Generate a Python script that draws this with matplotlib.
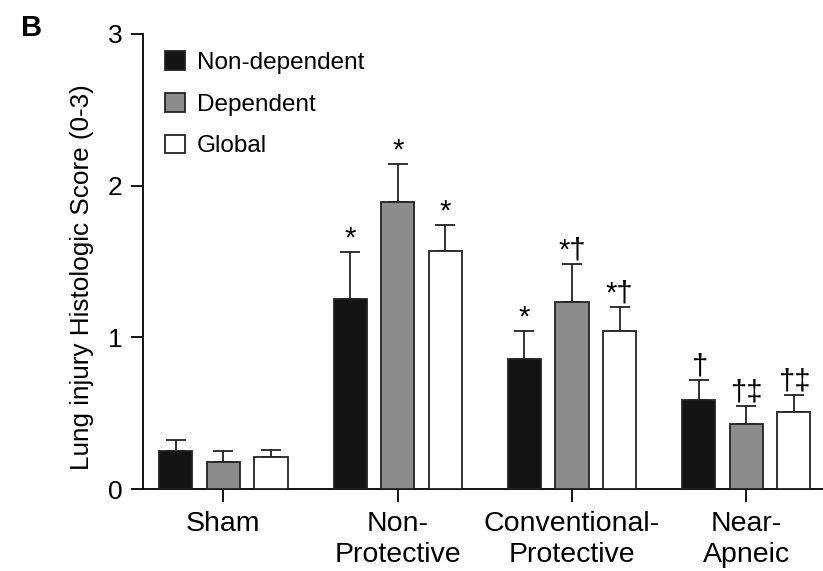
import numpy as np
import matplotlib
matplotlib.use('Agg')
import matplotlib.pyplot as plt

plt.rcParams['font.family'] = ['Liberation Sans', 'DejaVu Sans']

groups = ['Sham', 'Non-\nProtective', 'Conventional-\nProtective', 'Near-\nApneic']
series = ['Non-dependent', 'Dependent', 'Global']
colors = ['#141414', '#8c8c8c', '#ffffff']

non_dependent = [0.25, 1.25, 0.86, 0.59]
dependent = [0.18, 1.89, 1.23, 0.43]
global_score = [0.21, 1.57, 1.04, 0.51]

non_dependent_err = [0.07, 0.31, 0.18, 0.13]
dependent_err = [0.07, 0.25, 0.25, 0.12]
global_err = [0.05, 0.17, 0.16, 0.11]

non_dependent_sig = ['', '*', '*', '†']
dependent_sig = ['', '*', '*†', '†‡']
global_sig = ['', '*', '*†', '†‡']

values = [non_dependent, dependent, global_score]
errors = [non_dependent_err, dependent_err, global_err]
sigs = [non_dependent_sig, dependent_sig, global_sig]

fig = plt.figure(figsize=(8.23, 5.71), dpi=100)
ax = fig.add_axes([0.174, 0.1436, 0.826, 0.797])

x = np.arange(len(groups))
offset = 0.273
width = 0.19

for i in range(3):
    pos = x + (i - 1) * offset
    ax.bar(pos, values[i], width, color=colors[i], edgecolor='#222222',
           linewidth=1.3, label=series[i], zorder=3)
    ax.errorbar(pos, values[i], yerr=[np.zeros(len(groups)), errors[i]],
                fmt='none', ecolor='#222222', elinewidth=1.3, capsize=7.5,
                capthick=1.3, zorder=2)
    # significance markers above the error bars
    for p, v, e, s in zip(pos, values[i], errors[i], sigs[i]):
        if s:
            ax.annotate(s, (p, v + e), xytext=(0, 4), textcoords='offset points',
                        ha='center', va='baseline', fontsize=21)

ax.set_xlim(-0.46, 3.44)
ax.set_ylim(0, 3)
ax.set_yticks([0, 1, 2, 3])
ax.set_xticks(x)
ax.set_xticklabels(groups, fontsize=20.5, linespacing=1.25)
ax.tick_params(axis='y', labelsize=19, length=9, width=1.3, pad=6)
ax.tick_params(axis='x', length=9, width=1.3, pad=7)
ax.spines['top'].set_visible(False)
ax.spines['right'].set_visible(False)
ax.spines['left'].set_linewidth(1.3)
ax.spines['bottom'].set_linewidth(1.3)
ax.set_ylabel('Lung injury Histologic Score (0-3)', fontsize=18.8)
ax.yaxis.set_label_coords(-0.073, 0.466)

ax.legend(loc='upper left', bbox_to_anchor=(0.0, 1.01), frameon=False,
          fontsize=17.5, handlelength=0.8, handleheight=0.8, labelspacing=0.78,
          handletextpad=0.5)

fig.text(0.025, 0.975, 'B', fontsize=21, fontweight='bold', va='top')

fig.savefig('out.png', dpi=100)
